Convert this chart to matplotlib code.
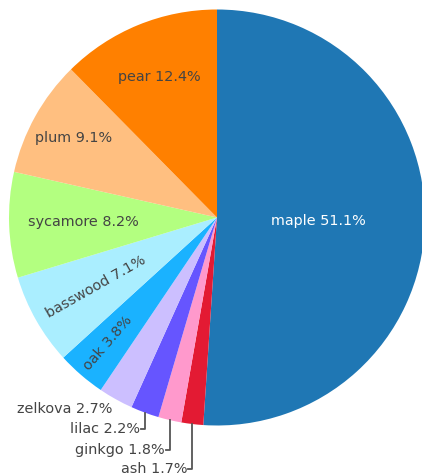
import numpy as np
import matplotlib
matplotlib.use("Agg")
import matplotlib.pyplot as plt

# Tree species share
species = ["maple", "ash", "ginkgo", "lilac", "zelkova",
           "oak", "basswood", "sycamore", "plum", "pear"]
share = [51.1, 1.7, 1.8, 2.2, 2.7, 3.8, 7.1, 8.2, 9.1, 12.4]
colors = ["#1f77b4", "#e31a33", "#ff99cc", "#6655ff", "#ccbfff",
          "#1ab2ff", "#aaeeff", "#b3ff80", "#ffbf80", "#ff8000"]

W, H = 422, 476
cx, cy, R = 217, H - 217.5, 208

fig = plt.figure(figsize=(W / 100, H / 100), dpi=100)
ax = fig.add_axes([0, 0, 1, 1])
wedges, _ = ax.pie(share, colors=colors, startangle=90, counterclock=False,
                   center=(cx, cy), radius=R,
                   wedgeprops=dict(linewidth=0))
ax.set_xlim(0, W)
ax.set_ylim(0, H)
ax.set_aspect("equal")
ax.axis("off")

txt = "#444444"
fs = 10.4

# inside labels: radius fraction and whether to rotate radially
inside = {
    "maple": (0.49, False, "white"),
    "oak": (0.80, True, txt),
    "basswood": (0.67, True, txt),
    "sycamore": (0.645, False, txt),
    "plum": (0.79, False, txt),
    "pear": (0.73, False, txt),
}

for w, name, val in zip(wedges, species, share):
    mid = np.deg2rad((w.theta1 + w.theta2) / 2)
    label = f"{name} {val}%"
    if name in inside:
        rf, rot, c = inside[name]
        x = cx + rf * R * np.cos(mid)
        y = cy + rf * R * np.sin(mid)
        ang = np.rad2deg(mid) + 180 if rot else 0
        ax.text(x, y, label, ha="center", va="center", color=c,
                fontsize=fs, rotation=ang, rotation_mode="anchor")
    else:
        # outside labels with elbow connectors
        ex = cx + R * np.cos(mid)
        ey = cy + R * np.sin(mid)
        if name == "zelkova":
            ax.text(ex - 3, ey - 10, label, ha="right", va="center",
                    color=txt, fontsize=fs)
            continue
        drop = {"lilac": 16, "ginkgo": 30, "ash": 45}[name]
        ly = ey - drop
        ax.plot([ex, ex, ex - 4], [ey, ly, ly], color="#555555", lw=1.3)
        ax.text(ex - 5, ly, label, ha="right", va="center",
                color=txt, fontsize=fs)

fig.savefig("out.png", dpi=100)
